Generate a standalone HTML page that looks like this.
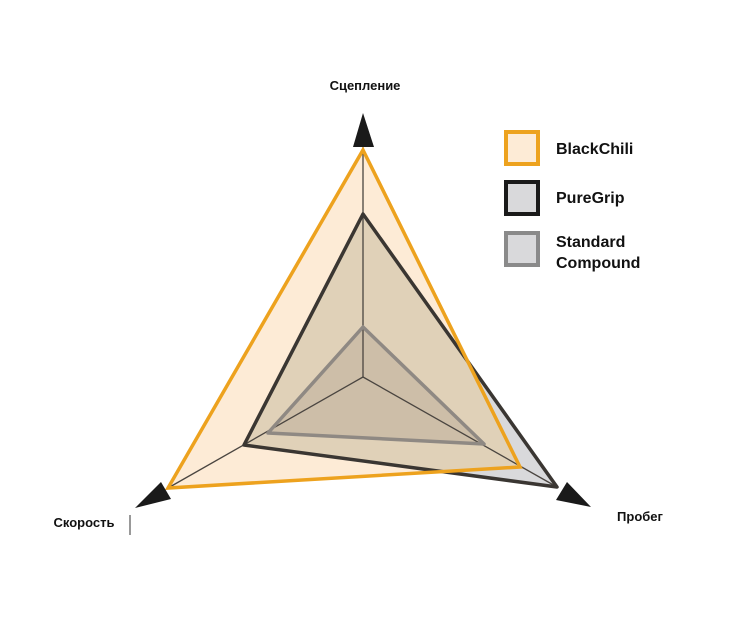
<!DOCTYPE html>
<html><head><meta charset="utf-8"><style>
html,body{margin:0;padding:0;background:#fff;}
svg{display:block;}
text{font-family:"Liberation Sans",Arial,sans-serif;font-weight:bold;fill:#111;}
</style></head><body>
<svg width="748" height="623" viewBox="0 0 748 623" xmlns="http://www.w3.org/2000/svg">
<defs><clipPath id="co"><polygon points="363,150 520,467 168,488"/></clipPath></defs>
<rect width="748" height="623" fill="#fff"/>
<polygon points="363,214 557,487 244,445" fill="#d9d9db"/>
<polygon points="363,150 520,467 168,488" fill="#fdebd6"/>
<polygon points="363,214 557,487 244,445" fill="#e0d1b8" clip-path="url(#co)"/>
<polygon points="363,327 484,444 268,433" fill="#cdbea8"/>
<g stroke="#4a4540" stroke-width="1.3">
<line x1="363" y1="377" x2="363" y2="145"/>
<line x1="363" y1="377" x2="168" y2="488"/>
<line x1="363" y1="377" x2="557" y2="487"/>
</g>
<polygon points="363,327 484,444 268,433" fill="none" stroke="#8f8983" stroke-width="3.5" stroke-linejoin="round"/>
<polygon points="363,214 557,487 244,445" fill="none" stroke="#3a3632" stroke-width="3.5" stroke-linejoin="round"/>
<polygon points="363,150 520,467 168,488" fill="none" stroke="#eda21e" stroke-width="3.5"/>
<polygon points="363,113 353,147 374,147" fill="#1a1a1a"/>
<polygon points="135,508 161,482 171,499" fill="#1a1a1a"/>
<polygon points="591,507 567,482 556,500" fill="#1a1a1a"/>
<line x1="130" y1="515" x2="130" y2="535" stroke="#333" stroke-width="1"/>
<text x="365" y="90" font-size="13" text-anchor="middle">Сцепление</text>
<text x="84" y="527" font-size="13" text-anchor="middle">Скорость</text>
<text x="640" y="521" font-size="13" text-anchor="middle">Пробег</text>
<rect x="506" y="132" width="32" height="32" fill="#fdebd6" stroke="#eda21e" stroke-width="4"/>
<rect x="506" y="182" width="32" height="32" fill="#d9d9db" stroke="#1a1a1a" stroke-width="4"/>
<rect x="506" y="233" width="32" height="32" fill="#d9d9db" stroke="#8a8a8a" stroke-width="4"/>
<text x="556" y="154" font-size="16">BlackChili</text>
<text x="556" y="203" font-size="16">PureGrip</text>
<text x="556" y="247" font-size="16">Standard</text>
<text x="556" y="268" font-size="16">Compound</text>
</svg>
</body></html>
